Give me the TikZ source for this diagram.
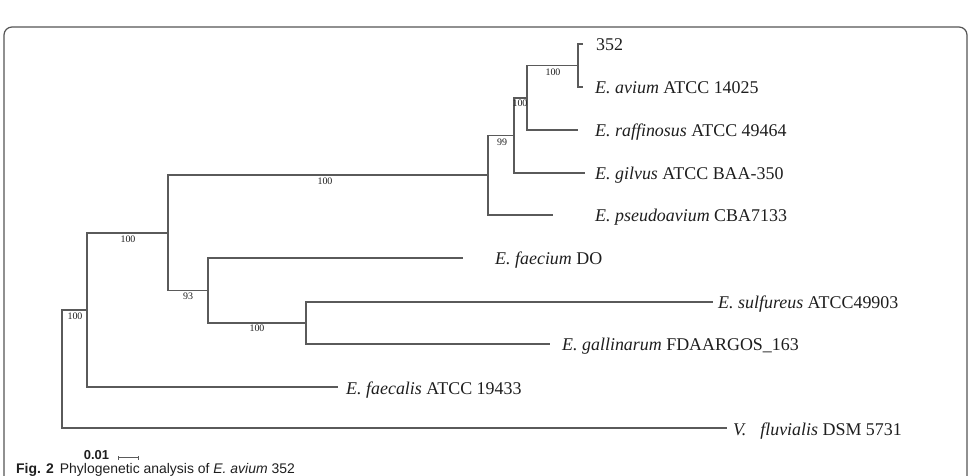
\documentclass[tikz,border=0pt]{standalone}
\usepackage{fontspec}
\setmainfont{Liberation Serif}
\newfontfamily\capfont{Liberation Sans}
\definecolor{treegray}{HTML}{5A5A5A}
\definecolor{framegray}{HTML}{555555}
\definecolor{textdark}{HTML}{1E1E1E}
\begin{document}
\begin{tikzpicture}[x=1bp,y=-1bp,
  branch/.style={draw=treegray, line width=1.1bp},
  tiplabel/.style={anchor=base west, inner sep=0pt, font=\fontsize{18}{20}\selectfont, text=textdark},
  support/.style={inner sep=0pt, font=\fontsize{10}{12}\selectfont, text=textdark},
  framebox/.style={draw=framegray, line width=1.2bp, rounded corners=8bp}]
\useasboundingbox (0,0) rectangle (977,476);
\clip (0,0) rectangle (977,476);
% frame
\draw[framebox] (4,27) rectangle (967,530);
% internal nodes
\coordinate (nI) at (62,369);
\coordinate (nH) at (87,310);
\coordinate (nE) at (168,233);
\coordinate (nD) at (488,175);
\coordinate (nC) at (514,135.5);
\coordinate (nB) at (527,98);
\coordinate (nA) at (578,65.5);
\coordinate (nF) at (208,290.5);
\coordinate (nG) at (306,323);
% tip ends
\coordinate (t352) at (583,44);
\coordinate (tavium) at (583,87);
\coordinate (traff) at (578,130);
\coordinate (tgilv) at (585,173);
\coordinate (tpseu) at (553,215);
\coordinate (tfaec) at (463,258);
\coordinate (tsulf) at (713,302);
\coordinate (tgall) at (550,344);
\coordinate (tfaecalis) at (338,387);
\coordinate (tfluv) at (727,428);
% branches
\draw[branch] (nI) |- (nH);
\draw[branch] (nI) |- (tfluv);
\draw[branch] (nH) |- (nE);
\draw[branch] (nH) |- (tfaecalis);
\draw[branch] (nE) |- (nD);
\draw[branch] (nE) |- (nF);
\draw[branch] (nD) |- (nC);
\draw[branch] (nD) |- (tpseu);
\draw[branch] (nC) |- (nB);
\draw[branch] (nC) |- (tgilv);
\draw[branch] (nB) |- (nA);
\draw[branch] (nB) |- (traff);
\draw[branch] (nA) |- (t352);
\draw[branch] (nA) |- (tavium);
\draw[branch] (nF) |- (tfaec);
\draw[branch] (nF) |- (nG);
\draw[branch] (nG) |- (tsulf);
\draw[branch] (nG) |- (tgall);
% tip labels
\node[tiplabel] (l352) at (596,51) {352};
\node[tiplabel] (lavium) at (595,94) {\textit{E. avium} ATCC 14025};
\node[tiplabel] (lraff) at (595,137) {\textit{E. raffinosus} ATCC 49464};
\node[tiplabel] (lgilv) at (595,180) {\textit{E. gilvus} ATCC BAA-350};
\node[tiplabel] (lpseu) at (595,222) {\textit{E. pseudoavium} CBA7133};
\node[tiplabel] (lfaec) at (495,265) {\textit{E. faecium} DO};
\node[tiplabel] (lsulf) at (718,309) {\textit{E. sulfureus} ATCC49903};
\node[tiplabel] (lgall) at (562,351) {\textit{E. gallinarum} FDAARGOS\_163};
\node[tiplabel] (lfaecalis) at (346,394) {\textit{E. faecalis} ATCC 19433};
\node[tiplabel] (lfluv) at (733,435) {\textit{V.}\hspace{14bp}\textit{fluvialis} DSM 5731};
% support values
\node[support] (sA) at (553,72) {100};
\node[support] (sB) at (520,103) {100};
\node[support] (sC) at (502,142) {99};
\node[support] (sD) at (325,181) {100};
\node[support] (sE) at (128,239) {100};
\node[support] (sF) at (188,296) {93};
\node[support] (sG) at (257,328) {100};
\node[support] (sH) at (75,316) {100};
% scale bar
\coordinate (sbL) at (118,457);
\coordinate (sbR) at (138,457);
\draw[treegray, line width=0.8bp] (sbL) -- (sbR);
\draw[treegray, line width=0.8bp] ([yshift=-2.5bp]sbL) -- ([yshift=1bp]sbL);
\draw[treegray, line width=0.8bp] ([yshift=-2.5bp]sbR) -- ([yshift=1bp]sbR);
\node[inner sep=0pt, font=\capfont\bfseries\fontsize{13}{15}\selectfont, text=textdark] (sblabel) at (96.5,455.5) {0.01};
% caption
\node[anchor=base west, inner sep=0pt, font=\capfont\fontsize{14}{16}\selectfont, text=textdark] (caption) at (16,473) {{\bfseries Fig. 2}\hspace{6bp}Phylogenetic analysis of \textit{E. avium} 352};
\end{tikzpicture}
\end{document}
